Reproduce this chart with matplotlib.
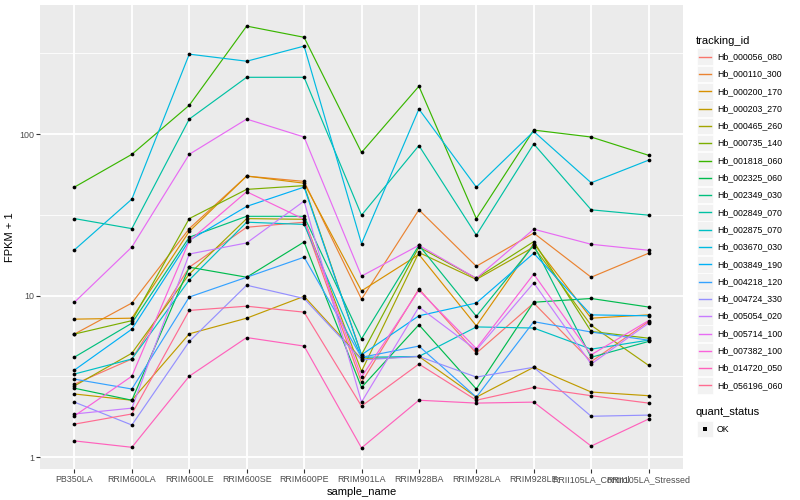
import matplotlib
matplotlib.use('Agg')
import matplotlib.pyplot as plt
import matplotlib.ticker as mticker
from matplotlib.patches import Rectangle
from matplotlib.lines import Line2D
import numpy as np

plt.rcParams['font.family'] = ['Liberation Sans', 'DejaVu Sans']

samples = ['PB350LA', 'RRIM600LA', 'RRIM600LE', 'RRIM600SE', 'RRIM600PE', 'RRIM901LA',
           'RRIM928BA', 'RRIM928LA', 'RRIM928LE', 'RRII105LA_Control', 'RRII105LA_Stressed']

tracking_ids = ['Hb_000056_080', 'Hb_000110_300', 'Hb_000200_170', 'Hb_000203_270',
                'Hb_000465_260', 'Hb_000735_140', 'Hb_001818_060', 'Hb_002325_060',
                'Hb_002349_030', 'Hb_002849_070', 'Hb_002875_070', 'Hb_003670_030',
                'Hb_003849_190', 'Hb_004218_120', 'Hb_004724_330', 'Hb_005054_020',
                'Hb_005714_100', 'Hb_007382_100', 'Hb_014720_050', 'Hb_056196_060']

# ggplot default hue palette, 20 levels
colors = ['#F8766D', '#EA8331', '#D89000', '#C09B00', '#A3A500', '#7CAE00', '#39B600',
          '#00BB4E', '#00BF7D', '#00C1A3', '#00BFC4', '#00BAE0', '#00B0F6', '#35A2FF',
          '#9590FF', '#C77CFF', '#E76BF3', '#FA62DB', '#FF62BC', '#FF6C91']

# FPKM + 1
hb_000056_080 = [2.83, 4.05, 15.0, 26.5, 28.5, 2.9, 11.0, 4.4, 9.0, 3.9, 6.9]
hb_000110_300 = [5.78, 9.0, 26.0, 55.0, 51.0, 9.5, 34.0, 15.2, 24.4, 13.0, 18.3]
hb_000200_170 = [7.15, 7.25, 25.0, 55.0, 49.7, 10.7, 18.0, 6.5, 21.0, 7.25, 7.6]
hb_000203_270 = [2.46, 2.25, 5.8, 7.25, 9.9, 4.05, 4.2, 2.35, 3.6, 2.53, 2.4]
hb_000465_260 = [2.76, 4.4, 13.6, 30.0, 29.7, 3.4, 18.5, 12.6, 20.0, 6.55, 3.7]
hb_000735_140 = [5.78, 7.0, 30.0, 45.5, 48.0, 4.3, 20.0, 12.8, 21.6, 6.0, 5.45]
hb_001818_060 = [47.0, 75.0, 151.0, 467.0, 398.0, 77.0, 198.0, 30.0, 106.0, 96.0, 74.0]
hb_002325_060 = [2.67, 2.25, 15.0, 13.0, 21.5, 2.7, 6.6, 2.64, 9.1, 9.6, 8.5]
hb_002349_030 = [4.16, 6.75, 23.0, 31.0, 31.0, 5.4, 20.5, 7.45, 20.5, 4.15, 5.2]
hb_002849_070 = [30.0, 26.0, 124.0, 225.0, 225.0, 31.5, 85.0, 23.7, 87.0, 34.0, 31.5]
hb_002875_070 = [3.27, 4.05, 12.5, 28.5, 27.6, 4.15, 4.2, 6.4, 6.3, 4.66, 5.3]
hb_003670_030 = [19.2, 39.6, 313.0, 283.0, 351.0, 21.0, 143.0, 47.0, 104.0, 50.0, 69.0]
hb_003849_190 = [3.46, 6.2, 22.0, 35.7, 47.0, 4.3, 7.5, 9.0, 18.3, 7.6, 7.5]
hb_004218_120 = [3.04, 2.64, 9.8, 13.0, 17.3, 4.15, 4.87, 2.35, 6.9, 5.95, 5.3]
hb_004724_330 = [2.19, 1.58, 5.2, 11.6, 9.6, 4.0, 4.2, 3.13, 3.6, 1.79, 1.82]
hb_005054_020 = [1.85, 2.01, 18.1, 21.2, 38.5, 2.19, 8.5, 4.6, 12.0, 3.77, 6.75]
hb_005714_100 = [9.1, 20.0, 75.0, 124.0, 96.0, 13.2, 20.5, 12.8, 25.8, 20.8, 19.1]
hb_007382_100 = [1.80, 3.17, 21.8, 44.0, 29.7, 3.13, 10.8, 4.7, 13.6, 4.3, 7.0]
hb_014720_050 = [1.26, 1.15, 3.17, 5.5, 4.87, 1.14, 2.25, 2.16, 2.19, 1.17, 1.72]
hb_056196_060 = [1.60, 1.85, 8.1, 8.6, 7.9, 2.07, 3.77, 2.25, 2.7, 2.4, 2.16]

series = [hb_000056_080, hb_000110_300, hb_000200_170, hb_000203_270, hb_000465_260,
          hb_000735_140, hb_001818_060, hb_002325_060, hb_002349_030, hb_002849_070,
          hb_002875_070, hb_003670_030, hb_003849_190, hb_004218_120, hb_004724_330,
          hb_005054_020, hb_005714_100, hb_007382_100, hb_014720_050, hb_056196_060]

W, H = 800, 500
fig = plt.figure(figsize=(8, 5), dpi=100)
ax = fig.add_axes([40 / W, 1 - 469 / H, (683 - 40) / W, (469 - 5) / H])
ax.set_facecolor('#EBEBEB')

x = np.arange(len(samples))
for vals, c in zip(series, colors):
    ax.plot(x, vals, color=c, lw=0.85, zorder=2)
for vals in series:
    ax.plot(x, vals, 'o', color='black', ms=2.7, mew=0, zorder=3)

ax.set_yscale('log')
allv = np.log10(np.concatenate([np.array(s) for s in series]))
pad = 0.05 * (allv.max() - allv.min())
ax.set_ylim(10 ** (allv.min() - pad), 10 ** (allv.max() + pad))
ax.set_xlim(-0.6, len(samples) - 0.4)

ax.yaxis.set_major_locator(mticker.FixedLocator([1, 10, 100]))
ax.yaxis.set_major_formatter(mticker.FixedFormatter(['1', '10', '100']))
ax.yaxis.set_minor_locator(mticker.FixedLocator([10 ** -0.5, 10 ** 0.5, 10 ** 1.5, 10 ** 2.5]))
ax.yaxis.set_minor_formatter(mticker.NullFormatter())
ax.set_xticks(x)
ax.set_xticklabels(samples)

ax.grid(which='major', color='white', lw=1.3, zorder=0)
ax.grid(which='minor', axis='y', color='white', lw=0.6, zorder=0)
ax.set_axisbelow(True)
for sp in ax.spines.values():
    sp.set_visible(False)
ax.tick_params(which='major', length=2.7, width=0.8, color='#333333',
               labelsize=6.4, labelcolor='#4D4D4D', pad=1.5)
ax.tick_params(which='minor', length=0)

ax.set_xlabel('sample_name', fontsize=8, labelpad=2)
ax.set_ylabel('FPKM + 1', fontsize=8, labelpad=3)

# legends drawn ggplot-style on the right
def fx(px):
    return px / W

def fy(py):
    return 1 - py / H

fig.text(fx(696), fy(41), 'tracking_id', fontsize=8, va='center', ha='left')
for i, (tid, c) in enumerate(zip(tracking_ids, colors)):
    yc = 56.7 + 17.3 * i
    fig.patches.append(Rectangle((fx(697), fy(yc + 8.3)), 16 / W, 16.6 / H,
                                 transform=fig.transFigure, facecolor='#F2F2F2',
                                 edgecolor='white', lw=0.5))
    fig.lines.append(Line2D([fx(699), fx(711)], [fy(yc), fy(yc)],
                            transform=fig.transFigure, color=c, lw=1.0))
    fig.text(fx(717), fy(yc), tid, fontsize=6.3, va='center', ha='left')

fig.text(fx(696), fy(412), 'quant_status', fontsize=8, va='center', ha='left')
fig.patches.append(Rectangle((fx(697), fy(429 + 8.3)), 16 / W, 16.6 / H,
                             transform=fig.transFigure, facecolor='#F2F2F2',
                             edgecolor='white', lw=0.5))
fig.lines.append(Line2D([fx(705)], [fy(429)], transform=fig.transFigure,
                        marker='s', color='black', ms=2.6, mew=0, ls='none'))
fig.text(fx(717), fy(429), 'OK', fontsize=6.3, va='center', ha='left')

fig.savefig('out.png', dpi=100)
